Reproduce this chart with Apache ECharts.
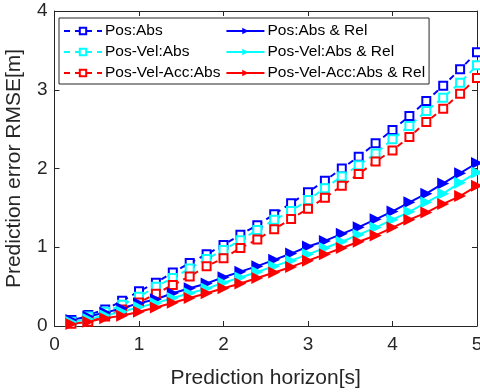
<!DOCTYPE html>
<html>
<head>
<meta charset="utf-8">
<script src="https://cdn.jsdelivr.net/npm/echarts@6/dist/echarts.min.js"></script>
<style>
  html, body { margin: 0; padding: 0; background: #fff; }
  #chart { width: 480px; height: 392px; }
</style>
</head>
<body>
<div id="chart"></div>
<script>
// prediction horizon [s]
const horizon = [0.2, 0.4, 0.6, 0.8, 1.0, 1.2, 1.4, 1.6, 1.8, 2.0, 2.2, 2.4, 2.6,
  2.8, 3.0, 3.2, 3.4, 3.6, 3.8, 4.0, 4.2, 4.4, 4.6, 4.8, 5.0];

// RMSE [m], absolute only (dashed)
const posAbs = [0.076, 0.14, 0.21, 0.32, 0.44, 0.55, 0.68, 0.80, 0.91, 1.03, 1.16, 1.28, 1.42,
  1.56, 1.70, 1.845, 2.0, 2.15, 2.32, 2.49, 2.667, 2.857, 3.05, 3.26, 3.476];
const posVelAbs = [0.055, 0.12, 0.18, 0.27, 0.37, 0.50, 0.61, 0.73, 0.85, 0.965, 1.09, 1.22, 1.35,
  1.46, 1.60, 1.75, 1.90, 2.04, 2.19, 2.37, 2.54, 2.73, 2.90, 3.09, 3.31];
const posVelAccAbs = [0.03, 0.055, 0.12, 0.21, 0.30, 0.41, 0.52, 0.63, 0.76, 0.86, 0.99, 1.10, 1.23,
  1.36, 1.49, 1.63, 1.78, 1.93, 2.09, 2.23, 2.40, 2.59, 2.76, 2.95, 3.15];

// RMSE [m], absolute & relative (solid)
const posAbsRel = [0.076, 0.12, 0.17, 0.225, 0.29, 0.34, 0.415, 0.48, 0.54, 0.62, 0.69, 0.76, 0.84,
  0.92, 1.01, 1.08, 1.17, 1.255, 1.355, 1.455, 1.57, 1.68, 1.81, 1.94, 2.07];
const posVelAbsRel = [0.05, 0.09, 0.135, 0.18, 0.24, 0.29, 0.355, 0.415, 0.475, 0.55, 0.615, 0.685, 0.76,
  0.83, 0.91, 0.99, 1.07, 1.16, 1.25, 1.35, 1.45, 1.57, 1.68, 1.82, 1.95];
const posVelAccAbsRel = [0.025, 0.055, 0.10, 0.13, 0.18, 0.235, 0.295, 0.355, 0.415, 0.48, 0.54, 0.61, 0.68,
  0.75, 0.83, 0.91, 0.99, 1.07, 1.15, 1.25, 1.35, 1.44, 1.55, 1.65, 1.78];

const xTicks = [0, 1, 2, 3, 4, 5];
const yTicks = [0, 1, 2, 3, 4];

const font = "Liberation Sans, Arial, sans-serif";
const ink = "#262626";

function pairs(ys) {
  return horizon.map((x, i) => [x, ys[i]]);
}

function dashed(name, color, ys) {
  return {
    name, type: "line", data: pairs(ys),
    symbol: "rect", symbolSize: 8,
    itemStyle: { color: "#fff", borderColor: color, borderWidth: 2 },
    lineStyle: { color, width: 2, type: [6, 5] },
    emphasis: { disabled: true }
  };
}

function solid(name, color, ys) {
  return {
    name, type: "line", data: pairs(ys),
    symbol: "triangle", symbolSize: 12, symbolRotate: -90,
    itemStyle: { color },
    lineStyle: { color, width: 2 },
    emphasis: { disabled: true }
  };
}

const chart = echarts.init(document.getElementById("chart"), null, { renderer: "canvas" });

const axisBase = {
  axisLine: { show: true, onZero: false, lineStyle: { color: ink, width: 1 } },
  axisTick: { show: true, inside: true, length: 5, lineStyle: { color: ink } },
  splitLine: { show: false }
};

chart.setOption({
  animation: false,
  backgroundColor: "#fff",
  grid: { left: 54.5, right: 3, top: 11, bottom: 66, containLabel: false, outerBoundsMode: "none" },
  legend: {
    orient: "vertical",
    left: 59, top: 18,
    height: 62,
    itemWidth: 38, itemHeight: 8,
    itemGap: 5,
    padding: [5, 4, 3, 4],
    borderColor: ink, borderWidth: 1,
    backgroundColor: "#fff",
    textStyle: { fontFamily: font, fontSize: 15.5, color: "#000", padding: [0, 5, 0, -2] },
    data: ["Pos:Abs", "Pos-Vel:Abs", "Pos-Vel-Acc:Abs",
      "Pos:Abs & Rel", "Pos-Vel:Abs & Rel", "Pos-Vel-Acc:Abs & Rel"]
  },
  xAxis: [
    Object.assign({}, axisBase, {
      type: "value", min: 0, max: 5, interval: 1, position: "bottom",
      name: "Prediction horizon[s]", nameLocation: "middle", nameGap: 42,
      nameTextStyle: { fontFamily: font, fontSize: 21, color: ink },
      axisLabel: { fontFamily: font, fontSize: 19, color: ink, margin: 9,
        formatter: v => xTicks.includes(v) ? String(v) : "" }
    }),
    Object.assign({}, axisBase, {
      type: "value", min: 0, max: 5, interval: 1, position: "top",
      axisLabel: { show: false }
    })
  ],
  yAxis: [
    Object.assign({}, axisBase, {
      type: "value", min: 0, max: 4, interval: 1, position: "left",
      name: "Prediction error RMSE[m]", nameLocation: "middle", nameGap: 30,
      nameTextStyle: { fontFamily: font, fontSize: 21, color: ink },
      axisLabel: { fontFamily: font, fontSize: 19, color: ink, margin: 7,
        formatter: v => yTicks.includes(v) ? String(v) : "" }
    }),
    Object.assign({}, axisBase, {
      type: "value", min: 0, max: 4, interval: 1, position: "right",
      axisLabel: { show: false }
    })
  ],
  series: [
    dashed("Pos:Abs", "#0000ff", posAbs),
    dashed("Pos-Vel:Abs", "#00ffff", posVelAbs),
    dashed("Pos-Vel-Acc:Abs", "#ff0000", posVelAccAbs),
    solid("Pos:Abs & Rel", "#0000ff", posAbsRel),
    solid("Pos-Vel:Abs & Rel", "#00ffff", posVelAbsRel),
    solid("Pos-Vel-Acc:Abs & Rel", "#ff0000", posVelAccAbsRel)
  ]
});
</script>
</body>
</html>
